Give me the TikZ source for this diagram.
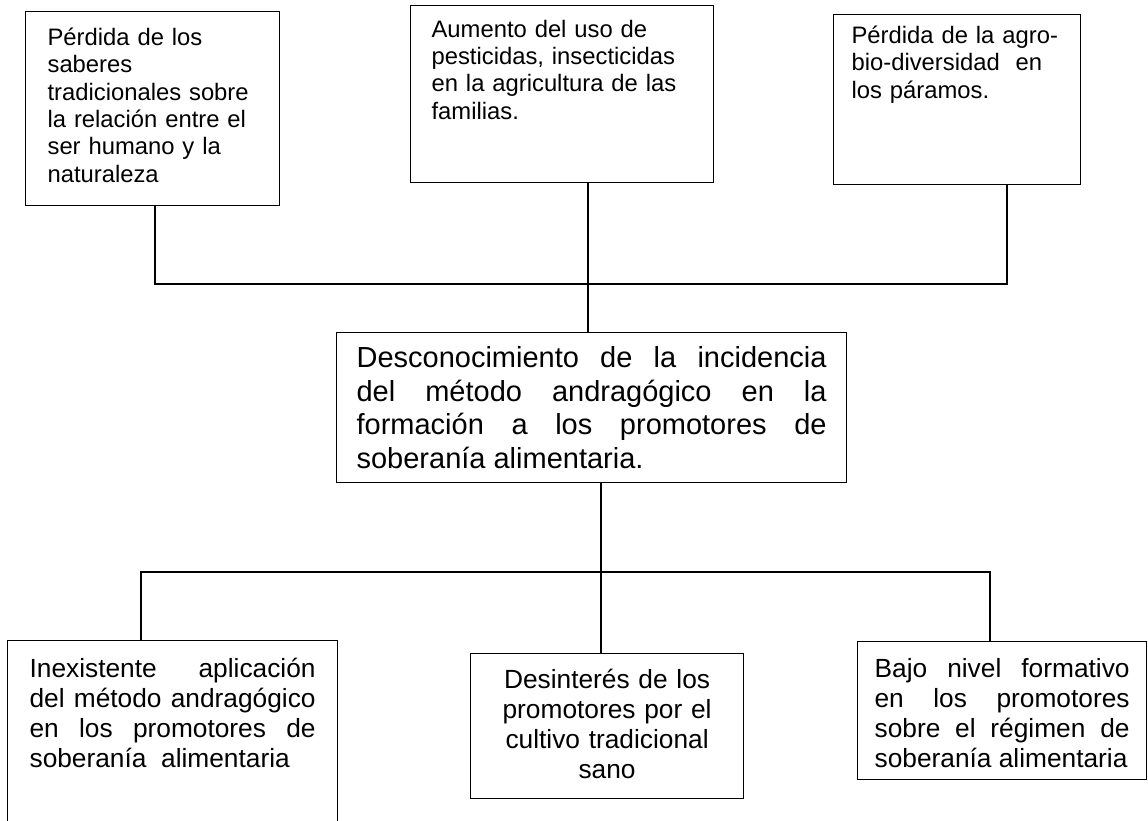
\documentclass[tikz,border=0pt]{standalone}
\usepackage{fontspec}
\setmainfont{Liberation Sans}
\usepackage{tikz}

\begin{document}
\begin{tikzpicture}[x=1pt,y=-1pt,line width=1.2pt,
  caja/.style={draw,anchor=north west,inner ysep=0pt,inner xsep=22pt},
  chica/.style={font=\fontsize{23.8}{27.3}\selectfont,align=left},
  grande/.style={font=\fontsize{29}{33.5}\selectfont,align=justify},
  media/.style={font=\fontsize{26.3}{30}\selectfont,align=justify}]
\useasboundingbox (0,0) rectangle (1148,821);
% causas (arriba)
\draw node [caja,chica,text width=210pt,text height=34pt,text depth=160pt] (P1) at (25,11)
  {Pérdida de los\\saberes\\tradicionales sobre\\la relación entre el\\ser humano y la\\naturaleza};
\draw node [caja,chica,inner xsep=21pt,text width=261pt,text height=31.7pt,text depth=145.3pt] (P2) at (410,5)
  {Aumento del uso de\\pesticidas, insecticidas\\en la agricultura de las\\familias.};
\draw node [caja,chica,inner xsep=18pt,text width=211pt,text height=29pt,text depth=141pt] (P3) at (833,14)
  {Pérdida de la agro-\\bio-diversidad\ \ en\\los páramos.};
% problema central
\draw node [caja,grande,inner xsep=20pt,text width=470pt,text height=35pt,text depth=115pt] (C) at (336,332)
  {Desconocimiento de la incidencia\linebreak del método andragógico en la\linebreak formación a los promotores de\linebreak soberanía alimentaria.};
% efectos (abajo)
\draw node [caja,media,text width=286pt,text height=37pt,text depth=163pt] (E1) at (7,640)
  {Inexistente aplicación\linebreak del método andragógico\linebreak en los promotores de\linebreak soberanía\ \ alimentaria};
\draw node [caja,media,align=center,inner xsep=20pt,text width=233pt,text height=35pt,text depth=110pt] (E2) at (470,653)
  {Desinterés de los\\promotores por el\\cultivo tradicional\\sano};
\draw node [caja,media,inner xsep=17pt,text width=255pt,text height=36pt,text depth=102pt] (E3) at (857,641)
  {Bajo nivel formativo\linebreak en los promotores\linebreak sobre el régimen de\linebreak soberanía alimentaria};
% conectores
\coordinate (xA) at (155,0);
\coordinate (xB) at (588,0);
\coordinate (xC) at (1007,0);
\coordinate (yT) at (0,284);
\coordinate (xD) at (141,0);
\coordinate (xE) at (601,0);
\coordinate (xF) at (990,0);
\coordinate (yB) at (0,572);
\draw (P1.south -| xA) -- (xA |- yT) -- (xC |- yT) -- (P3.south -| xC);
\draw (P2.south -| xB) -- (C.north -| xB);
\draw (E1.north -| xD) -- (xD |- yB) -- (xF |- yB) -- (E3.north -| xF);
\draw (C.south -| xE) -- (E2.north -| xE);
\end{tikzpicture}
\end{document}
